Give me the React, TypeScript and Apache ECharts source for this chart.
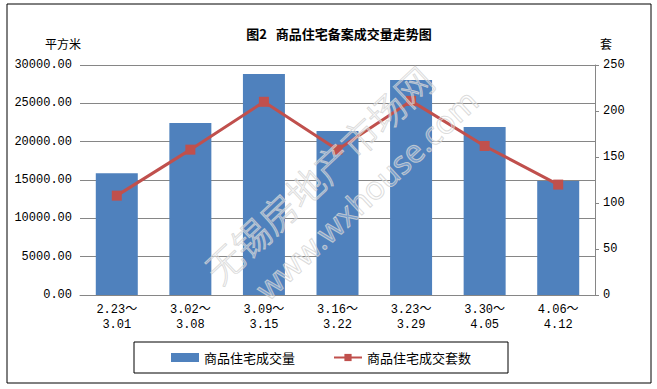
import React, { useEffect, useRef } from "react";
import * as echarts from "echarts";

const categories = ["2.23～\n3.01", "3.02～\n3.08", "3.09～\n3.15", "3.16～\n3.22", "3.23～\n3.29", "3.30～\n4.05", "4.06～\n4.12"];
const areaValues = [15880, 22430, 28830, 21390, 28040, 21910, 14870];
const unitValues = [108, 158, 210, 158, 211, 162, 120];
const titleText = "图2\u00a0\u00a0\u00a0商品住宅备案成交量走势图";
const barName = "商品住宅成交量";
const lineName = "商品住宅成交套数";
const leftUnit = "平方米";
const rightUnit = "套";
const watermark1 = "无锡房地产市场网";
const watermark2 = "www.wxhouse.com";

const CJK = '"Noto Sans CJK SC", "Noto Sans", sans-serif';
const MONO = '"Liberation Mono", "DejaVu Sans Mono", "Noto Sans CJK SC", monospace';

export default function App() {
  const ref = useRef<HTMLDivElement>(null);
  useEffect(() => {
    document.body.style.margin = "0";
    const chart = echarts.init(ref.current!, null, { renderer: "svg" });
    const rot = (43 * Math.PI) / 180;
    chart.setOption({
      animation: false,
      backgroundColor: "#fff",
      title: {
        text: titleText,
        left: 334,
        textAlign: "center",
        top: 22,
        textStyle: { fontFamily: CJK, fontSize: 13, fontWeight: "bold", color: "#000" },
      },
      grid: { left: 80, right: 62, top: 65, bottom: 94 },
      legend: {
        left: 134,
        top: 342,
        padding: [9, 37, 9, 37],
        borderColor: "#000",
        borderWidth: 1,
        itemGap: 38,
        itemWidth: 28,
        itemHeight: 9,
        textStyle: { fontFamily: CJK, fontSize: 13, color: "#000" },
        data: [
          { name: barName, icon: "rect" },
          { name: lineName },
        ],
      },
      xAxis: {
        type: "category",
        data: categories,
        axisLine: { lineStyle: { color: "#868686", width: 1 } },
        axisTick: { show: false },
        axisLabel: {
          interval: 0,
          margin: 7,
          fontFamily: MONO,
          fontSize: 12,
          lineHeight: 15,
          color: "#000",
        },
      },
      yAxis: [
        {
          type: "value",
          min: 0,
          max: 30000,
          interval: 5000,
          axisLine: { show: false },
          axisTick: { show: false },
          splitLine: { lineStyle: { color: "#868686", width: 1 } },
          axisLabel: {
            margin: 8,
            fontFamily: MONO,
            fontSize: 12,
            color: "#000",
            formatter: (v: number) => v.toFixed(2),
          },
        },
        {
          type: "value",
          min: 0,
          max: 250,
          interval: 50,
          position: "right",
          axisLine: { show: true, lineStyle: { color: "#868686", width: 1 } },
          axisTick: { show: true, length: 4, lineStyle: { color: "#868686" } },
          splitLine: { show: false },
          axisLabel: { margin: 8, fontFamily: MONO, fontSize: 12, color: "#000" },
        },
      ],
      series: [
        {
          name: barName,
          type: "bar",
          data: areaValues,
          barWidth: 42,
          itemStyle: { color: "#4F81BD" },
        },
        {
          name: lineName,
          type: "line",
          yAxisIndex: 1,
          data: unitValues,
          symbol: "rect",
          symbolSize: 10,
          lineStyle: { color: "#C0504D", width: 3 },
          itemStyle: { color: "#C0504D" },
        },
      ],
      graphic: [
        {
          type: "rect",
          shape: { x: 7, y: 4, width: 644, height: 379 },
          style: { fill: "none", stroke: "#000", lineWidth: 1 },
          silent: true,
          z: 0,
        },
        {
          type: "text",
          left: 45,
          top: 37,
          style: { text: leftUnit, fontFamily: CJK, fontSize: 12, fill: "#000" },
        },
        {
          type: "text",
          left: 600,
          top: 37,
          style: { text: rightUnit, fontFamily: CJK, fontSize: 12, fill: "#000" },
        },
        {
          type: "text",
          x: 318,
          y: 174,
          rotation: rot,
          z: 100,
          silent: true,
          style: {
            text: watermark1,
            x: 0,
            y: 0,
            align: "center",
            verticalAlign: "middle",
            fontFamily: CJK,
            fontSize: 37,
            fontWeight: 300,
            fill: "rgba(255,255,255,0.25)",
            stroke: "rgba(205,205,205,0.8)",
            lineWidth: 1,
          },
        },
        {
          type: "text",
          x: 366,
          y: 194,
          rotation: rot,
          z: 100,
          silent: true,
          style: {
            text: watermark2,
            x: 0,
            y: 0,
            align: "center",
            verticalAlign: "middle",
            fontFamily: '"Noto Sans", sans-serif',
            fontSize: 32,
            fill: "rgba(255,255,255,0.25)",
            stroke: "rgba(205,205,205,0.8)",
            lineWidth: 1,
          },
        },
      ],
    });
    return () => chart.dispose();
  }, []);
  return <div ref={ref} style={{ width: 657, height: 389 }} />;
}
